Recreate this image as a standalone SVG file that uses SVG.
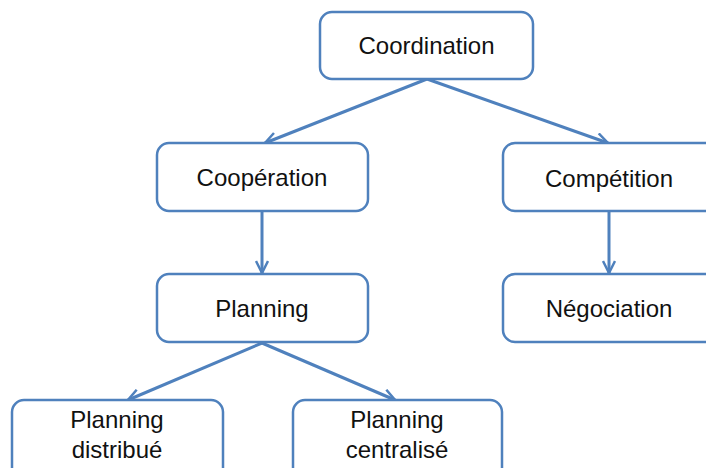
<svg xmlns="http://www.w3.org/2000/svg" width="706" height="468" viewBox="0 0 706 468">
<style>
.box{fill:#fff;stroke:#4f81bd;stroke-width:2.5}
.lbl{font-family:"Liberation Sans",Arial,sans-serif;font-size:24px;fill:#111;text-anchor:middle}
.conn{stroke:#4f81bd;stroke-width:3;fill:none;marker-end:url(#arr)}
</style>
<defs>
<marker id="arr" viewBox="0 0 14 14" refX="13" refY="7" markerWidth="14" markerHeight="14" markerUnits="userSpaceOnUse" orient="auto">
<path d="M1,1 L13,7 L1,13" fill="none" stroke="#4f81bd" stroke-width="2.5" stroke-linejoin="miter"/>
</marker>
</defs>
<rect width="706" height="468" fill="#fff"/>
<g id="connectors">
<line class="conn" x1="427" y1="79" x2="265" y2="143"/>
<line class="conn" x1="427" y1="79" x2="608" y2="143"/>
<line class="conn" x1="262" y1="212" x2="262" y2="273"/>
<line class="conn" x1="609" y1="212" x2="609" y2="273"/>
<line class="conn" x1="262" y1="343" x2="128" y2="400"/>
<line class="conn" x1="262" y1="343" x2="395" y2="400"/>
</g>
<g id="coordination"><rect class="box" x="320" y="12" width="213" height="67" rx="12"/><text class="lbl" x="426.5" y="54">Coordination</text></g>
<g id="cooperation"><rect class="box" x="157" y="143" width="211" height="68" rx="12"/><text class="lbl" x="262" y="186">Coopération</text></g>
<g id="competition"><rect class="box" x="503" y="143" width="215" height="68" rx="12"/><text class="lbl" x="609" y="187">Compétition</text></g>
<g id="planning"><rect class="box" x="157" y="274" width="211" height="68" rx="12"/><text class="lbl" x="262" y="317">Planning</text></g>
<g id="negociation"><rect class="box" x="503" y="274" width="215" height="68" rx="12"/><text class="lbl" x="609" y="317">Négociation</text></g>
<g id="planning-distribue"><rect class="box" x="12" y="400" width="211" height="80" rx="12"/><text class="lbl" x="117" y="428">Planning</text><text class="lbl" x="117" y="458">distribué</text></g>
<g id="planning-centralise"><rect class="box" x="293" y="400" width="209" height="80" rx="12"/><text class="lbl" x="397" y="428">Planning</text><text class="lbl" x="397" y="458">centralisé</text></g>
</svg>
